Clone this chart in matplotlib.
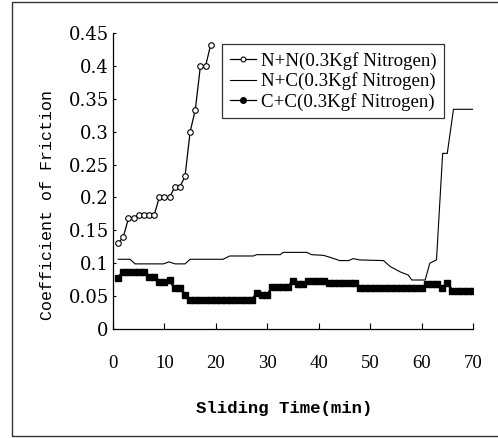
import matplotlib
matplotlib.use("Agg")
import matplotlib.pyplot as plt
from matplotlib.lines import Line2D
from matplotlib.patches import Rectangle

# ---- data ----
nn_t = [1, 2, 3, 4, 5, 6, 7, 8, 9, 10, 11, 12, 13, 14, 15, 16, 17, 18, 19]
nn_v = [0.130, 0.140, 0.168, 0.168, 0.173, 0.173, 0.173, 0.173, 0.200, 0.200,
        0.200, 0.216, 0.216, 0.232, 0.300, 0.333, 0.400, 0.400, 0.432]

nc_t = [1, 3.3, 4.3, 9.8, 10.9, 12.1, 14, 15, 21.4, 22.7, 24.7, 27.3, 27.9,
        32.5, 33.1, 37.7, 38.6, 40.9, 42.2, 44.1, 45.8, 46.7, 48, 52.6, 53.9,
        55.8, 57.4, 58.1, 60.7, 61.6, 62.9, 64.1, 65.0, 66.2, 70]
nc_v = [0.106, 0.106, 0.099, 0.099, 0.102, 0.099, 0.099, 0.106, 0.106, 0.111,
        0.111, 0.111, 0.113, 0.113, 0.1165, 0.1165, 0.113, 0.112, 0.109, 0.104,
        0.104, 0.107, 0.105, 0.104, 0.095, 0.087, 0.082, 0.0745, 0.0745, 0.100,
        0.105, 0.267, 0.267, 0.334, 0.334]

cc_t = list(range(1, 71))
cc_v = [0.078, 0.087, 0.087, 0.087, 0.087, 0.087, 0.079, 0.079, 0.072, 0.072,
        0.074, 0.062, 0.062, 0.052, 0.044, 0.044, 0.044, 0.044, 0.044, 0.044,
        0.044, 0.044, 0.044, 0.044, 0.044, 0.044, 0.044, 0.055, 0.052, 0.052,
        0.064, 0.064, 0.064, 0.064, 0.073, 0.069, 0.069, 0.073, 0.073, 0.073,
        0.073, 0.070, 0.070, 0.070, 0.070, 0.070, 0.070, 0.062, 0.062, 0.062,
        0.062, 0.062, 0.062, 0.062, 0.062, 0.062, 0.062, 0.062, 0.062, 0.062,
        0.068, 0.068, 0.068, 0.062, 0.070, 0.058, 0.058, 0.058, 0.058, 0.058]

labels = ["N+N(0.3Kgf Nitrogen)", "N+C(0.3Kgf Nitrogen)", "C+C(0.3Kgf Nitrogen)"]
xticks = [0, 10, 20, 30, 40, 50, 60, 70]
yticks = [0, 0.05, 0.1, 0.15, 0.2, 0.25, 0.3, 0.35, 0.4, 0.45]
ytick_labels = ["0", "0.05", "0.1", "0.15", "0.2", "0.25", "0.3", "0.35", "0.4", "0.45"]

W, H = 498, 438
fig = plt.figure(figsize=(W / 100, H / 100), dpi=100)
fig.patch.set_facecolor("white")

# outer frame of the scanned figure
fig.patches.append(Rectangle((12 / W, 2 / H), (W + 10) / W, (434) / H,
                             transform=fig.transFigure, fill=False,
                             edgecolor="#333333", linewidth=1.0))

ax = fig.add_axes([113 / W, 109 / H, 360 / W, 296 / H])

ax.plot(cc_t, cc_v, color="black", linewidth=1.8, marker="s", markersize=4.8,
        markerfacecolor="black", markeredgecolor="black", zorder=2)
ax.plot(nc_t, nc_v, color="black", linewidth=0.8, zorder=3)
ax.plot(nn_t, nn_v, color="black", linewidth=0.9, marker="o", markersize=4.0,
        markerfacecolor="white", markeredgecolor="black", markeredgewidth=0.8,
        zorder=4)

ax.set_xlim(0, 70)
ax.set_ylim(0, 0.45)
ax.spines["top"].set_visible(False)
ax.spines["right"].set_visible(False)
for s in ("left", "bottom"):
    ax.spines[s].set_linewidth(0.9)

ax.set_xticks(xticks)
ax.set_xticklabels([str(x) for x in xticks], family="Liberation Serif", fontsize=13.5)
ax.set_yticks(yticks)
ax.set_yticklabels(ytick_labels, family="DejaVu Serif", fontsize=13)
ax.tick_params(axis="x", direction="in", length=4, width=0.8, pad=19)
ax.tick_params(axis="y", direction="in", length=2.5, width=0.8, pad=3)

ax.set_xlabel("Sliding Time(min)", family="Liberation Mono", fontsize=12.5,
              fontweight="bold")
ax.xaxis.set_label_coords(0.475, -0.243)
ax.set_ylabel("Coefficient of Friction", family="Liberation Mono", fontsize=12)
ax.yaxis.set_label_coords(-0.16, 0.42)

handles = [
    Line2D([], [], color="black", linewidth=0.9, marker="o", markersize=3.5,
           markerfacecolor="white", markeredgecolor="black", markeredgewidth=0.8),
    Line2D([], [], color="black", linewidth=0.8),
    Line2D([], [], color="black", linewidth=0.9, marker="o", markersize=4,
           markerfacecolor="black", markeredgecolor="black"),
]
leg = ax.legend(handles, labels, loc="upper left", bbox_to_anchor=(0.302, 0.962),
                prop={"family": "Liberation Serif", "size": 13.6},
                frameon=True, fancybox=False, edgecolor="black",
                handlelength=1.4, handletextpad=0.25, borderpad=0.42,
                labelspacing=0.12, borderaxespad=0.0)
leg.get_frame().set_linewidth(0.9)

fig.savefig("out.png", dpi=100, facecolor="white")
